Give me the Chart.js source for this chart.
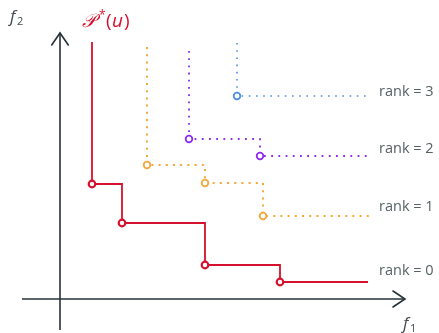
<!DOCTYPE html>
<html><head><meta charset="utf-8">
<script src="https://cdn.jsdelivr.net/npm/chart.js@4/dist/chart.umd.min.js"></script>
<style>html,body{margin:0;padding:0;background:#fff;}canvas{display:block;}</style>
</head><body>
<canvas id="c" width="439" height="333"></canvas>
<script>
// Staircase fronts (f1, f2): start of vertical, Pareto points, end of horizontal
const rank0Top = [3.2, 25.7];
const rank0Points = [[3.2, 11.5], [6.2, 7.6], [14.5, 3.4], [22.0, 1.7]];
const rank0EndX = 30.8;

const rank1Top = [8.7, 25.2];
const rank1Points = [[8.7, 13.4], [14.5, 11.6], [20.3, 8.3]];
const rank1EndX = 31.2;

const rank2Top = [12.9, 24.8];
const rank2Points = [[12.9, 16.0], [20.0, 14.3]];
const rank2EndX = 31.0;

const rank3Top = [17.7, 25.6];
const rank3Points = [[17.7, 20.3]];
const rank3EndX = 30.8;

const rankLabels = ['rank = 0', 'rank = 1', 'rank = 2', 'rank = 3'];
const rankLabelPos = [[31.9, 2.8], [31.9, 9.2], [31.9, 15.0], [31.9, 20.75]];

const xAxisRange = [-3.8, 34.5];
const yAxisRange = [-3.1, 26.6];

const RED = '#d5112d', ORANGE = '#f4a83a', PURPLE = '#8f2cf0', BLUE = '#4a90e2', AXIS = '#263238', GREY = '#566164';

function stair(top, pts, endX) {
  const last = pts[pts.length - 1];
  const data = [{x: top[0], y: top[1]}]
    .concat(pts.map(p => ({x: p[0], y: p[1]})))
    .concat([{x: endX, y: last[1]}]);
  const radius = data.map((d, i) => (i === 0 || i === data.length - 1) ? 0 : 3.3);
  return {data, radius};
}
function ds(top, pts, endX, color, dash, lw, plw) {
  const s = stair(top, pts, endX);
  return {
    data: s.data, showLine: true, stepped: 'before', borderColor: color, borderWidth: lw,
    borderDash: dash, borderCapStyle: 'butt', pointRadius: s.radius, pointBorderWidth: plw,
    pointBackgroundColor: '#fff', pointBorderColor: color, pointHoverRadius: s.radius, clip: false
  };
}

const datasets = [
  {data: [{x: 0, y: yAxisRange[0]}, {x: 0, y: yAxisRange[1]}], showLine: true, borderColor: AXIS, borderWidth: 1.6, pointRadius: 0, clip: false},
  {data: [{x: xAxisRange[0], y: 0}, {x: xAxisRange[1], y: 0}], showLine: true, borderColor: AXIS, borderWidth: 1.6, pointRadius: 0, clip: false},
  ds(rank3Top, rank3Points, rank3EndX, BLUE, [1.6, 5.6], 1.6, 1.8),
  ds(rank2Top, rank2Points, rank2EndX, PURPLE, [1.8, 5.4], 1.8, 1.8),
  ds(rank1Top, rank1Points, rank1EndX, ORANGE, [2, 5.2], 2, 1.8),
  ds(rank0Top, rank0Points, rank0EndX, RED, [], 1.8, 2.2),
];

const decor = {
  id: 'decor',
  afterDatasetsDraw(chart) {
    const ctx = chart.ctx, xs = chart.scales.x, ys = chart.scales.y;
    const X = v => xs.getPixelForValue(v), Y = v => ys.getPixelForValue(v);
    ctx.save();
    // arrow heads
    ctx.strokeStyle = AXIS; ctx.lineWidth = 1.6; ctx.lineCap = 'round'; ctx.lineJoin = 'miter';
    const vx = X(0), vy = Y(yAxisRange[1]);
    ctx.beginPath(); ctx.moveTo(vx - 8.3, vy + 12); ctx.lineTo(vx, vy); ctx.lineTo(vx + 8.3, vy + 12); ctx.stroke();
    const hx = X(xAxisRange[1]), hy = Y(0);
    ctx.beginPath(); ctx.moveTo(hx - 12, hy - 8); ctx.lineTo(hx, hy); ctx.lineTo(hx - 12, hy + 8); ctx.stroke();
    // rank labels
    ctx.fillStyle = GREY; ctx.font = '14.5px "Open Sans"'; ctx.textBaseline = 'middle'; ctx.textAlign = 'left';
    rankLabels.forEach((t, i) => ctx.fillText(t, X(rankLabelPos[i][0]), Y(rankLabelPos[i][1])));
    // axis titles
    ctx.fillStyle = '#3f4b50';
    ctx.font = 'italic 17px "Open Sans"'; ctx.textBaseline = 'alphabetic';
    ctx.fillText('f', 10, 22); ctx.font = '11px "Open Sans"'; ctx.fillText('2', 17, 25);
    ctx.font = 'italic 17px "Open Sans"'; ctx.fillText('f', 403, 329); ctx.font = '11px "Open Sans"'; ctx.fillText('1', 410, 332);
    // P*(u)
    ctx.fillStyle = RED;
    ctx.font = 'italic 19px "DejaVu Serif"'; ctx.fillText('\u{1D4AB}', 82, 27);
    ctx.font = '12px "Open Sans"'; ctx.fillText('*', 99, 19);
    ctx.font = '19px "Open Sans"'; ctx.fillText('(', 106, 27);
    ctx.font = 'italic 19px "Open Sans"'; ctx.fillText('u', 112, 27);
    ctx.font = '19px "Open Sans"'; ctx.fillText(')', 124, 27);
    ctx.restore();
  }
};

new Chart(document.getElementById('c'), {
  type: 'scatter',
  data: {datasets},
  options: {
    responsive: false, animation: false, devicePixelRatio: 1,
    layout: {padding: 0},
    plugins: {legend: {display: false}, tooltip: {enabled: false}},
    events: [],
    scales: {
      x: {type: 'linear', display: false, min: -6.0, max: 37.9},
      y: {type: 'linear', display: false, min: -3.4, max: 29.9}
    }
  },
  plugins: [decor]
});
</script>
</body></html>
